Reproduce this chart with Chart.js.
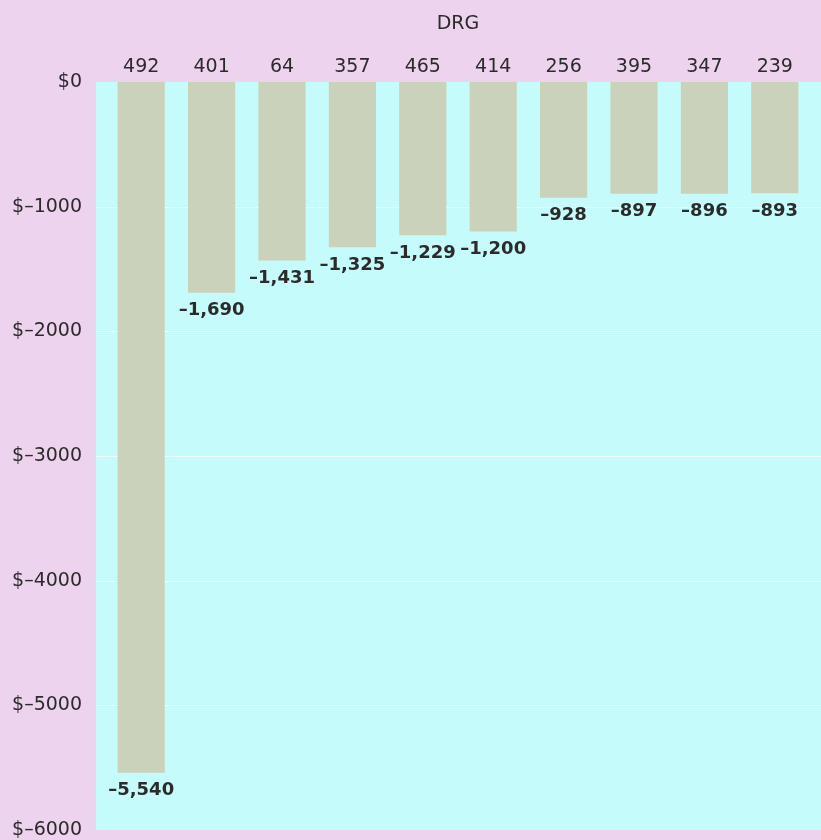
<!DOCTYPE html>
<html>
<head>
<meta charset="utf-8">
<script src="https://cdn.jsdelivr.net/npm/chart.js@4"></script>
<style>
  html, body { margin: 0; padding: 0; background: #eed3ee; }
  canvas { display: block; }
</style>
</head>
<body>
<canvas id="chart" width="821" height="840"></canvas>
<script>
const drgCodes = ["492", "401", "64", "357", "465", "414", "256", "395", "347", "239"];
const lossValues = [-5540, -1690, -1431, -1325, -1229, -1200, -928, -897, -896, -893];
const yTicks = [0, -1000, -2000, -3000, -4000, -5000, -6000];

const textColor = "#2b2b2b";
const dash = "\u2013";

// cyan plot panel + faint white grid lines
const panelPlugin = {
  id: "panel",
  beforeDatasetsDraw(chart) {
    const { ctx, chartArea, scales } = chart;
    const left = chartArea.left - 10;
    const right = chart.width;
    ctx.save();
    ctx.fillStyle = "#c6fbfb";
    ctx.fillRect(left, chartArea.top, right - left, chartArea.bottom - chartArea.top);
    ctx.strokeStyle = "rgba(255,255,255,0.7)";
    ctx.lineWidth = 1;
    yTicks.forEach((t) => {
      if (t === 0 || t === -6000) return;
      const y = Math.round(scales.y.getPixelForValue(t)) + 0.5;
      ctx.beginPath();
      ctx.moveTo(left, y);
      ctx.lineTo(right, y);
      ctx.stroke();
    });
    ctx.restore();
  },
};

// value labels under each bar
const valueLabels = {
  id: "valueLabels",
  afterDatasetsDraw(chart) {
    const { ctx } = chart;
    const meta = chart.getDatasetMeta(0);
    ctx.save();
    ctx.font = "bold 18px 'DejaVu Sans'";
    ctx.fillStyle = textColor;
    ctx.textAlign = "center";
    ctx.textBaseline = "middle";
    meta.data.forEach((bar, i) => {
      const v = lossValues[i];
      const txt = dash + Math.abs(v).toLocaleString("en-US");
      ctx.fillText(txt, bar.x, bar.y + 18);
    });
    ctx.restore();
  },
};

new Chart(document.getElementById("chart"), {
  type: "bar",
  data: {
    labels: drgCodes,
    datasets: [
      {
        data: lossValues,
        backgroundColor: "#cad2bb",
        borderWidth: 0,
        categoryPercentage: 1,
        barPercentage: 0.67,
      },
    ],
  },
  options: {
    responsive: false,
    animation: false,
    layout: { padding: { left: 0, right: 11, top: 0, bottom: 10 } },
    plugins: {
      legend: { display: false },
      tooltip: { enabled: false },
    },
    scales: {
      x: {
        position: "top",
        border: { display: false },
        grid: { display: false, drawTicks: false, tickLength: 0 },
        title: {
          display: true,
          text: "DRG",
          color: textColor,
          font: { family: "'DejaVu Sans'", size: 19 },
          padding: { top: 13, bottom: 0 },
        },
        ticks: {
          color: textColor,
          font: { family: "'DejaVu Sans'", size: 19 },
          padding: 4,
          maxRotation: 0,
        },
        afterFit(axis) {
          axis.height = 82;
        },
      },
      y: {
        min: -6000,
        max: 0,
        border: { display: false },
        grid: { display: false, drawTicks: false, tickLength: 0 },
        afterBuildTicks(axis) {
          axis.ticks = yTicks.map((v) => ({ value: v }));
        },
        ticks: {
          color: textColor,
          font: { family: "'DejaVu Sans'", size: 19 },
          padding: 24,
          callback: (v) => (v === 0 ? "$0" : "$" + dash + Math.abs(v)),
        },
        afterFit(axis) {
          axis.width = 106;
          axis.paddingTop = 0;
          axis.paddingBottom = 0;
        },
      },
    },
  },
  plugins: [panelPlugin, valueLabels],
});
</script>
</body>
</html>
